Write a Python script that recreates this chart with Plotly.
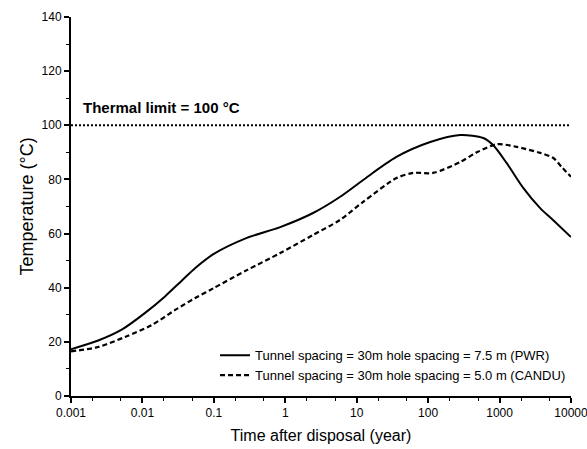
import plotly.graph_objects as go

# Data
pwr_time = [0.001, 0.0024, 0.0052, 0.0109, 0.0207, 0.0355, 0.055, 0.1, 0.29, 0.85,
            2.45, 5.8, 12.3, 36, 107, 280, 590, 810, 1260, 2130, 3700, 5600, 10000]
pwr_temp = [17.3, 20.5, 24.6, 30.7, 36.8, 42.6, 47.3, 52.5, 58.4, 62.4,
            67.6, 73.5, 79.8, 88.3, 93.8, 96.4, 95.3, 92.7, 86.0, 77.0, 69.4, 65.0, 58.7]

candu_time = [0.001, 0.0024, 0.0057, 0.0135, 0.0288, 0.055, 0.1, 0.29, 0.85, 2.45,
              5.8, 12.3, 36, 62, 117, 280, 480, 920, 1740, 3700, 5600, 7400, 10000]
candu_temp = [16.5, 18.1, 21.8, 26.2, 31.8, 36.2, 39.9, 46.5, 52.8, 59.5,
              65.0, 71.7, 80.5, 82.4, 82.4, 86.4, 90.0, 93.0, 92.0, 89.8, 88.0, 84.6, 81.0]

limit_time = [0.001, 10000]
thermal_limit = 100

x_tickvals = [0.001, 0.01, 0.1, 1, 10, 100, 1000, 10000]
x_ticktext = ["0.001", "0.01", "0.1", "1", "10", "100", "1000", "10000"]
y_tickvals = [0, 20, 40, 60, 80, 100, 120, 140]

FONT = "Liberation Sans, Arial, sans-serif"

fig = go.Figure()
fig.add_trace(go.Scatter(
    x=limit_time, y=[thermal_limit] * len(limit_time), mode="lines",
    line=dict(color="black", width=2, dash="2px,2px"), showlegend=False,
    hoverinfo="skip"))
fig.add_trace(go.Scatter(
    x=pwr_time, y=pwr_temp, mode="lines",
    line=dict(color="black", width=2, shape="spline", smoothing=0.8),
    name="Tunnel spacing = 30m hole spacing = 7.5 m (PWR)"))
fig.add_trace(go.Scatter(
    x=candu_time, y=candu_temp, mode="lines",
    line=dict(color="black", width=2.2, dash="5px,3px", shape="spline", smoothing=0.8),
    name="Tunnel spacing = 30m hole spacing = 5.0 m (CANDU)"))

fig.add_annotation(
    x=-3, y=thermal_limit, xref="x", yref="y", xanchor="left", yanchor="middle",
    xshift=10, yshift=18, showarrow=False,
    text="<b>Thermal limit = 100 °C</b>", font=dict(family=FONT, size=15, color="black"))

fig.update_layout(
    width=587, height=449,
    margin=dict(l=71, r=16, t=17, b=53),
    paper_bgcolor="white", plot_bgcolor="white",
    font=dict(family=FONT, size=12, color="black"),
    legend=dict(x=1, xanchor="right", y=0.015, yanchor="bottom",
                bgcolor="rgba(0,0,0,0)", font=dict(size=13),
                tracegroupgap=0, itemwidth=30),
    xaxis=dict(
        type="log", range=[-3, 4], tickvals=x_tickvals, ticktext=x_ticktext,
        automargin=False, ticklabeloverflow="allow",
        showline=True, linecolor="black", linewidth=2, ticks="outside",
        ticklen=5, tickwidth=1.5, tickcolor="black", showgrid=False, zeroline=False,
        minor=dict(ticks="outside", ticklen=3, tickwidth=1.2, tickcolor="black",
                   showgrid=False),
        title=dict(text="Time after disposal (year)", font=dict(size=16), standoff=10),
        tickfont=dict(size=12)),
    yaxis=dict(
        range=[0, 140], tickvals=y_tickvals, automargin=False,
        showline=True, linecolor="black", linewidth=2, ticks="outside",
        ticklen=5, tickwidth=1.5, tickcolor="black", showgrid=False, zeroline=False,
        minor=dict(dtick=10, ticks="outside", ticklen=3, tickwidth=1.2,
                   tickcolor="black", showgrid=False),
        title=dict(text="Temperature (°C)", font=dict(size=18), standoff=3),
        tickfont=dict(size=12)),
)

fig.write_html("out.html")
